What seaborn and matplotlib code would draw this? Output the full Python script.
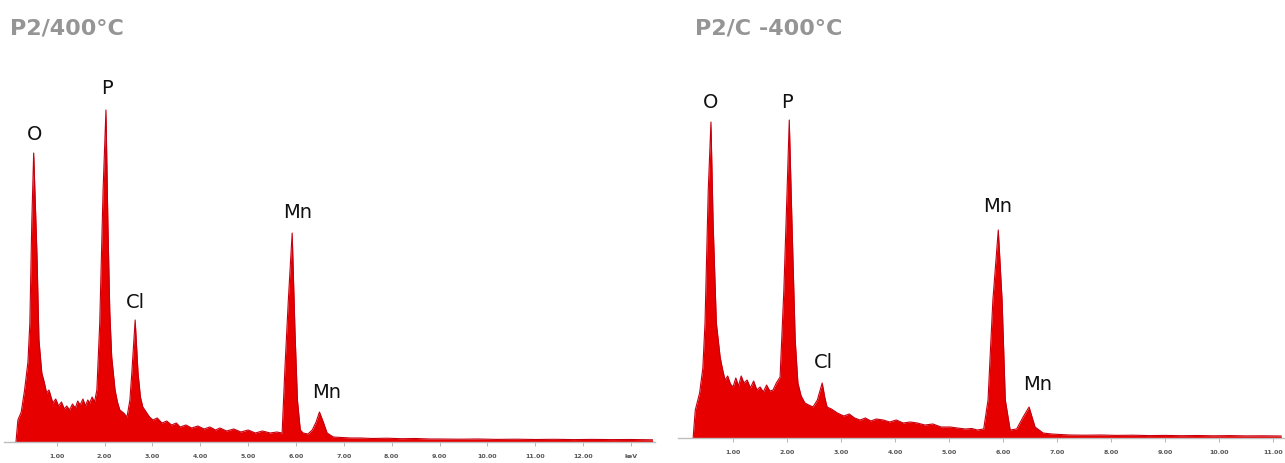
import numpy as np
import pandas as pd
import matplotlib
matplotlib.use("Agg")
import matplotlib.pyplot as plt
import seaborn as sns

# P2/400°C spectrum (energy keV, counts)
left_kev = [0.15, 0.19, 0.26, 0.33, 0.40, 0.44, 0.48, 0.52, 0.56, 0.59,
            0.63, 0.69, 0.74, 0.79, 0.84, 0.92, 0.98, 1.04, 1.10, 1.16,
            1.21, 1.27, 1.33, 1.39, 1.44, 1.49, 1.55, 1.60, 1.65, 1.69,
            1.74, 1.79, 1.84, 1.90, 1.97, 2.03, 2.07, 2.11, 2.15, 2.22,
            2.27, 2.32, 2.40, 2.47, 2.53, 2.57, 2.64, 2.70, 2.75, 2.80,
            2.87, 2.94, 3.01, 3.10, 3.20, 3.30, 3.40, 3.50, 3.58, 3.70,
            3.82, 3.95, 4.08, 4.20, 4.32, 4.41, 4.55, 4.70, 4.85, 5.00,
            5.15, 5.30, 5.46, 5.60, 5.71, 5.77, 5.84, 5.92, 5.98, 6.03,
            6.09, 6.15, 6.25, 6.34, 6.42, 6.49, 6.57, 6.65, 6.78, 6.95,
            7.15, 7.34, 7.60, 7.90, 8.20, 8.50, 8.80, 9.02, 9.40, 9.80,
            10.2, 10.6, 11.0, 11.4, 11.8, 12.2, 12.6, 13.0, 13.45]
left_counts = [0, 220, 300, 520, 800, 1190, 2190, 2890, 2300, 1850,
               1020, 690, 600, 490, 520, 390, 430, 360, 400, 330,
               360, 320, 380, 340, 410, 370, 430, 360, 420, 390,
               450, 400, 520, 1190, 2520, 3320, 2190, 1300, 850, 520,
               400, 320, 290, 250, 420, 690, 1220, 690, 450, 350,
               300, 250, 220, 240, 190, 210, 170, 190, 150, 170,
               140, 160, 130, 150, 120, 140, 110, 130, 100, 120,
               90, 110, 90, 100, 90, 750, 1420, 2090, 1090, 420,
               120, 90, 80, 120, 200, 300, 200, 90, 50, 45,
               40, 40, 35, 38, 33, 35, 30, 30, 28, 30,
               26, 28, 25, 27, 24, 26, 24, 25, 22]

# P2/C -400°C spectrum
right_kev = [0.26, 0.30, 0.38, 0.44, 0.48, 0.54, 0.59, 0.63, 0.69, 0.76,
             0.80, 0.85, 0.90, 0.95, 1.00, 1.05, 1.10, 1.15, 1.20, 1.26,
             1.32, 1.38, 1.44, 1.50, 1.56, 1.62, 1.68, 1.74, 1.80, 1.87,
             1.94, 2.00, 2.04, 2.09, 2.15, 2.20, 2.26, 2.33, 2.40, 2.48,
             2.56, 2.65, 2.70, 2.74, 2.82, 2.93, 3.05, 3.15, 3.25, 3.35,
             3.45, 3.55, 3.65, 3.78, 3.90, 4.02, 4.15, 4.28, 4.41, 4.55,
             4.70, 4.85, 5.02, 5.15, 5.30, 5.42, 5.52, 5.64, 5.72, 5.81,
             5.91, 5.98, 6.04, 6.13, 6.25, 6.37, 6.48, 6.59, 6.74, 6.90,
             7.05, 7.24, 7.50, 7.80, 8.10, 8.40, 8.70, 9.00, 9.30, 9.60,
             9.90, 10.2, 10.5, 10.8, 11.15]
right_counts = [0, 280, 450, 700, 1150, 2480, 3160, 2150, 1150, 810,
                700, 580, 620, 540, 510, 600, 520, 620, 550, 580,
                500, 570, 480, 510, 460, 530, 470, 480, 550, 610,
                1480, 2480, 3180, 2150, 980, 550, 420, 350, 330, 310,
                380, 550, 400, 310, 290, 250, 220, 240, 200, 180,
                200, 170, 190, 180, 160, 180, 150, 160, 150, 130,
                140, 110, 110, 100, 90, 95, 80, 90, 380, 1380,
                2080, 1380, 380, 80, 90, 210, 310, 110, 50, 40,
                35, 30, 28, 30, 26, 28, 24, 26, 23, 25,
                22, 24, 21, 22, 20]

# peak labels: element, energy, label height
left_labels = ["O", "P", "Cl", "Mn", "Mn"]
left_label_kev = [0.54, 2.05, 2.64, 6.03, 6.65]
left_label_y = [3070, 3540, 1400, 2290, 500]

right_labels = ["O", "P", "Cl", "Mn", "Mn"]
right_label_kev = [0.59, 2.00, 2.67, 5.89, 6.63]
right_label_y = [3360, 3360, 750, 2310, 530]

left_ticks = list(range(1, 14))
left_ticklabels = [f"{t}.00" for t in range(1, 13)] + ["keV"]
right_ticks = list(range(1, 12))
right_ticklabels = [f"{t}.00" for t in range(1, 12)]

sns.set_theme(style="white")
plt.rcParams['font.family'] = ['DejaVu Sans']

fig = plt.figure(figsize=(12.85, 4.63), dpi=100)
W, H = 1285, 463

def draw_spectrum(ax, kev, counts, labels, lab_x, lab_y, ticks, ticklabels, xlim, ylim):
    df = pd.DataFrame({"keV": kev, "counts": counts})
    ax.fill_between(df["keV"], 0, df["counts"], color="#e60000", linewidth=0)
    sns.lineplot(data=df, x="keV", y="counts", ax=ax, color="#c40010",
                 linewidth=0.8, estimator=None)
    for t, x, y in zip(labels, lab_x, lab_y):
        ax.text(x, y, t, ha="center", va="center", fontsize=14,
                color="#111111")
    ax.set_xlim(*xlim)
    ax.set_ylim(*ylim)
    ax.set_xticks(ticks)
    ax.set_xticklabels(ticklabels, fontsize=4.5, fontweight="bold", color="#555555")
    ax.set_yticks([])
    ax.set_xlabel("")
    ax.set_ylabel("")
    for s in ["top", "right", "left"]:
        ax.spines[s].set_visible(False)
    ax.spines["bottom"].set_color("#bdbdbd")
    ax.spines["bottom"].set_linewidth(1.0)
    ax.tick_params(axis="x", bottom=True, length=3, width=0.6, color="#aaaaaa", pad=6)
    ax.set_facecolor("white")

ax1 = fig.add_axes([4 / W, (H - 442) / H, 651 / W, 382 / H])
draw_spectrum(ax1, left_kev, left_counts, left_labels, left_label_kev, left_label_y,
              left_ticks, left_ticklabels, (-0.1, 13.5), (0, 3820))

ax2 = fig.add_axes([678 / W, (H - 438) / H, 606 / W, 378 / H])
draw_spectrum(ax2, right_kev, right_counts, right_labels, right_label_kev, right_label_y,
              right_ticks, right_ticklabels, (-0.02, 11.2), (0, 3780))

fig.text(10 / W, 1 - 28 / H, "P2/400°C", fontsize=16, fontweight="bold",
         color="#959595", ha="left", va="center")
fig.text(695 / W, 1 - 28 / H, "P2/C -400°C", fontsize=16, fontweight="bold",
         color="#959595", ha="left", va="center")

fig.savefig("out.png", dpi=100)
